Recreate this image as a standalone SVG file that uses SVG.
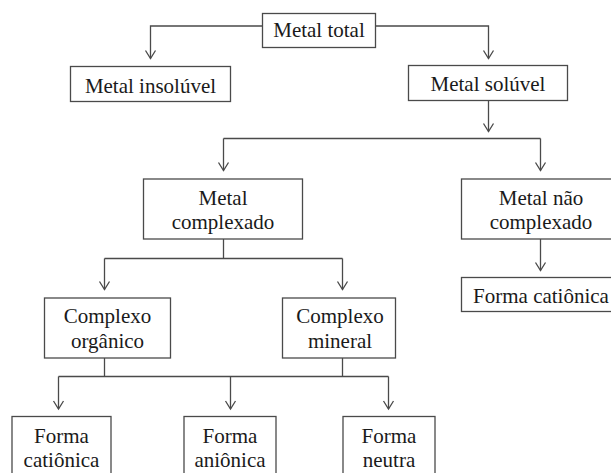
<svg xmlns="http://www.w3.org/2000/svg" width="611" height="473" viewBox="0 0 611 473">
<style>
.box{fill:#fff;stroke:#4a4a4a;stroke-width:1.3}
.lbl{font-family:"Liberation Serif","Times New Roman",serif;font-size:21px;fill:#1a1a1a;text-anchor:middle}
.ln{fill:none;stroke:#4a4a4a;stroke-width:1.3}
.ar{fill:none;stroke:#4a4a4a;stroke-width:1.3;marker-end:url(#arr)}
</style>
<defs>
<marker id="arr" markerUnits="userSpaceOnUse" markerWidth="14" markerHeight="14" viewBox="-10 -7 12 14" refX="0" refY="0" orient="auto">
<path d="M-8,-5 L0,0 L-8,5" fill="none" stroke="#4a4a4a" stroke-width="1.3"/>
</marker>
</defs>
<rect width="611" height="473" fill="#fff"/>
<g id="connectors">
<path class="ar" d="M262.5,26 H150.5 V58.5"/>
<path class="ar" d="M375.5,26 H488.5 V58.5"/>
<path class="ar" d="M488.5,100.5 V131.5"/>
<path class="ln" d="M223.5,138.5 H540.5"/>
<path class="ar" d="M223.5,138.5 V170.5"/>
<path class="ar" d="M540.5,138.5 V170.5"/>
<path class="ln" d="M223.5,239 V258.5"/>
<path class="ln" d="M104.5,258.5 H342.5"/>
<path class="ar" d="M104.5,258.5 V289.5"/>
<path class="ar" d="M342.5,258.5 V289.5"/>
<path class="ar" d="M540.5,239 V270.5"/>
<path class="ln" d="M104.5,358 V376.5"/>
<path class="ln" d="M342.5,358 V376.5"/>
<path class="ln" d="M58.5,376.5 H388.5"/>
<path class="ar" d="M58.5,376.5 V409"/>
<path class="ar" d="M230.5,376.5 V409"/>
<path class="ar" d="M388.5,376.5 V409"/>
</g>
<g id="metal-total"><rect class="box" x="262.5" y="13.5" width="113" height="34"/><text class="lbl" x="319" y="37">Metal total</text></g>
<g id="metal-insoluvel"><rect class="box" x="70.5" y="66.5" width="160" height="35"/><text class="lbl" x="150.5" y="92.5">Metal insolúvel</text></g>
<g id="metal-soluvel"><rect class="box" x="408.5" y="65.5" width="159" height="35"/><text class="lbl" x="488" y="91">Metal solúvel</text></g>
<g id="metal-complexado"><rect class="box" x="143.5" y="179" width="159" height="60"/><text class="lbl" x="223" y="205">Metal</text><text class="lbl" x="223" y="229">complexado</text></g>
<g id="metal-nao-complexado"><rect class="box" x="461.5" y="179" width="160" height="60"/><text class="lbl" x="541" y="205">Metal não</text><text class="lbl" x="541" y="229">complexado</text></g>
<g id="forma-cationica-livre"><rect class="box" x="461.5" y="277.5" width="160" height="34"/><text class="lbl" x="541" y="303">Forma catiônica</text></g>
<g id="complexo-organico"><rect class="box" x="44.5" y="298" width="126" height="60"/><text class="lbl" x="107.5" y="323">Complexo</text><text class="lbl" x="107.5" y="348">orgânico</text></g>
<g id="complexo-mineral"><rect class="box" x="282.5" y="298" width="113" height="60"/><text class="lbl" x="340" y="323">Complexo</text><text class="lbl" x="340" y="348">mineral</text></g>
<g id="forma-cationica"><rect class="box" x="12" y="416.5" width="99" height="70"/><text class="lbl" x="61.5" y="442.5">Forma</text><text class="lbl" x="61.5" y="466.5">catiônica</text></g>
<g id="forma-anionica"><rect class="box" x="184" y="416.5" width="92" height="70"/><text class="lbl" x="230" y="442.5">Forma</text><text class="lbl" x="230" y="466.5">aniônica</text></g>
<g id="forma-neutra"><rect class="box" x="343" y="416.5" width="92" height="70"/><text class="lbl" x="389" y="442.5">Forma</text><text class="lbl" x="389" y="466.5">neutra</text></g>
</svg>
